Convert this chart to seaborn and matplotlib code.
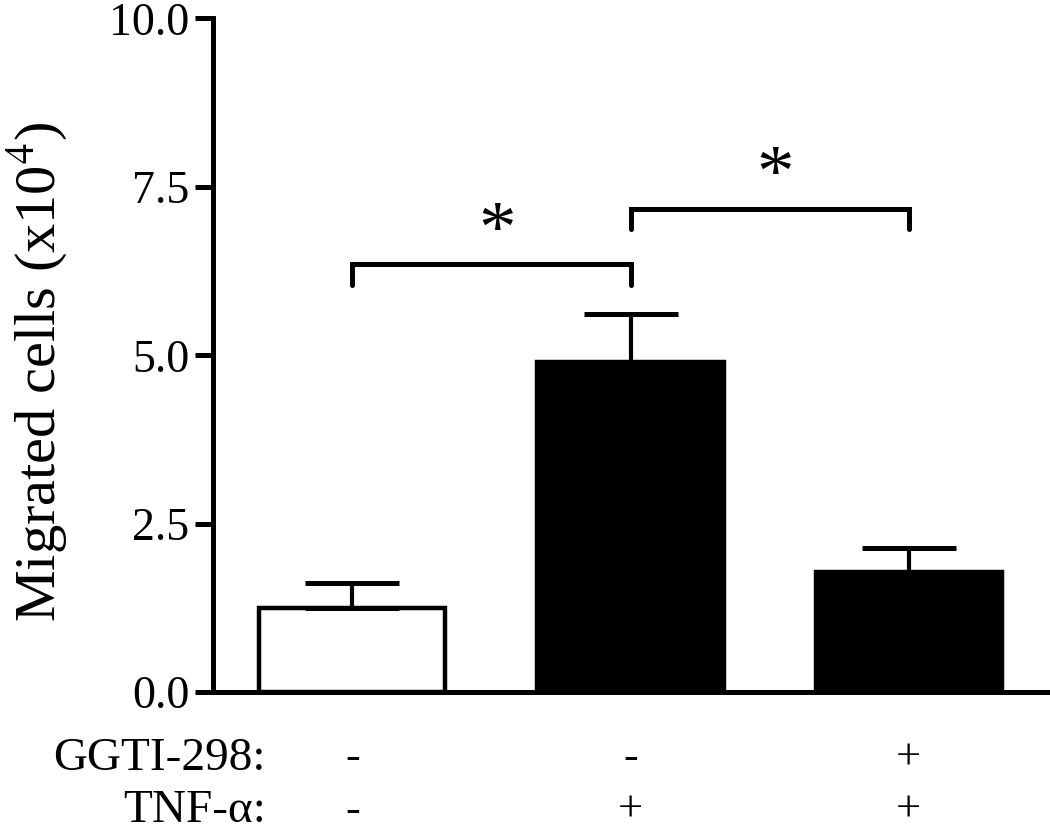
import numpy as np
import pandas as pd
import seaborn as sns
import matplotlib.pyplot as plt
from matplotlib.ticker import FormatStrFormatter

# Data
groups = ["ctrl", "TNF", "TNF+GGTI"]
migrated = [1.25, 4.90, 1.78]
sem = [0.37, 0.71, 0.36]
bar_colors = ["white", "black", "black"]
ggti_signs = ["-", "-", "+"]
tnf_signs = ["-", "+", "+"]
# significance brackets: (left bar, right bar, height)
brackets = [(0, 1, 6.35), (1, 2, 7.17)]

sns.set_style("ticks")
plt.rcParams["font.family"] = ["Liberation Serif", "DejaVu Serif"]
plt.rcParams["mathtext.fontset"] = "stix"
for key in ["text.color", "axes.labelcolor", "xtick.color", "ytick.color", "axes.edgecolor"]:
    plt.rcParams[key] = "black"

fig = plt.figure(figsize=(10.5, 8.34), dpi=100)
ax = fig.add_axes([0.203, 0.170, 0.795, 0.808])

df = pd.DataFrame({"group": groups, "value": migrated})
sns.barplot(data=df, x="group", y="value", hue="group", palette=bar_colors,
            legend=False, width=0.67, edgecolor="black", linewidth=3.2,
            errorbar=None, ax=ax)

# one-sided error bars (upper only)
ax.errorbar(range(len(groups)), migrated, yerr=[np.zeros(len(sem)), sem],
            fmt="none", ecolor="black", elinewidth=3, capsize=34, capthick=3.6,
            zorder=1)

# brackets and stars
for a, b, h in brackets:
    ax.plot([a, a, b, b], [h - 0.3, h, h, h - 0.3], color="black",
            lw=3.6, solid_capstyle="round", solid_joinstyle="miter", clip_on=False)
    ax.text((a + b) / 2 + 0.02, h + 0.45, "*", ha="center", va="center",
            fontsize=54)

ax.set_xlim(-0.5, 2.5)
ax.set_ylim(0, 10)
ax.set_yticks([0, 2.5, 5.0, 7.5, 10.0])
ax.yaxis.set_major_formatter(FormatStrFormatter("%.1f"))
ax.set_xticks([])
ax.set_xlabel("")
ax.set_ylabel(r"Migrated cells (x10$^{4}$)", fontsize=42, labelpad=28, y=0.475)
ax.tick_params(axis="y", labelsize=33, length=13, width=3.6, pad=4)
sns.despine(ax=ax)
for side in ["left", "bottom"]:
    ax.spines[side].set_linewidth(3.6)

# treatment table under the axis
for i in range(len(groups)):
    ax.text(i, -0.98, ggti_signs[i], ha="center", va="center", fontsize=32)
    ax.text(i, -1.76, tnf_signs[i], ha="center", va="center", fontsize=32)
ax.text(-0.31, -0.98, "GGTI-298:", ha="right", va="center", fontsize=34)
ax.text(-0.31, -1.76, "TNF-α:", ha="right", va="center", fontsize=34)

fig.savefig("out.png", dpi=100)
